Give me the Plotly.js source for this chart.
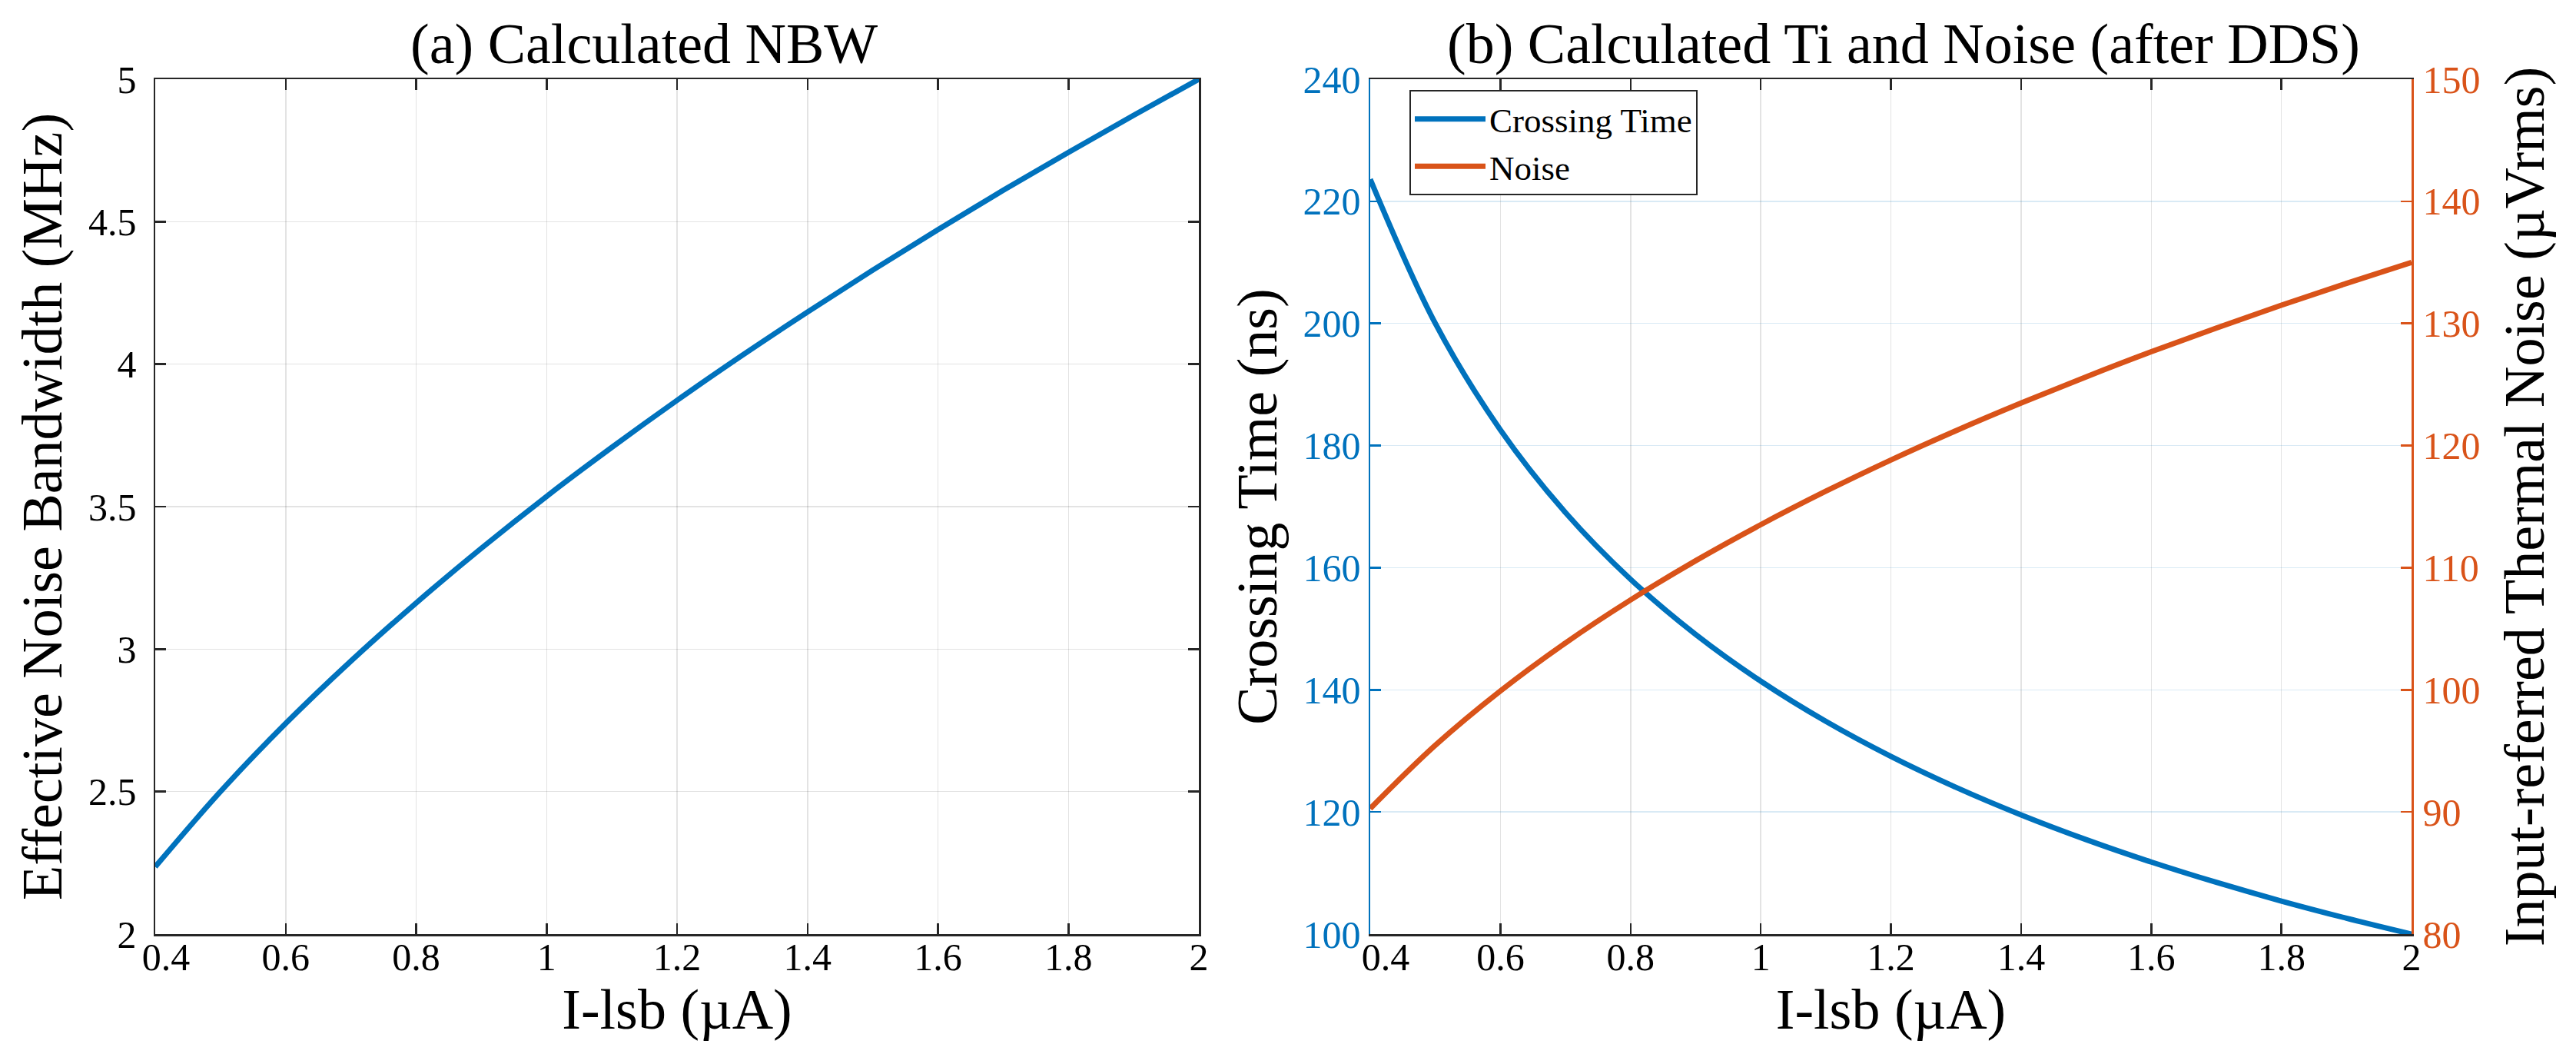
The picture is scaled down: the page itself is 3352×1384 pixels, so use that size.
<!DOCTYPE html>
<html>
<head>
<meta charset="utf-8">
<script src="https://cdn.plot.ly/plotly-3.0.1.min.js"></script>
<style>
  html, body { margin: 0; padding: 0; background: #ffffff; }
  #chart { width: 3352px; height: 1384px; }
</style>
</head>
<body>
<div id="chart"></div>
<script>
// ---- Data ----
const iLsbUA = [0.4, 0.5, 0.6, 0.7, 0.8, 0.9, 1.0, 1.1, 1.2, 1.3, 1.4, 1.5, 1.6, 1.7, 1.8, 1.9, 2.0];
const nbwMHz = [2.236, 2.500, 2.739, 2.958, 3.162, 3.354, 3.536, 3.708, 3.873, 4.031, 4.183, 4.330, 4.472, 4.610, 4.743, 4.873, 5.000];
const crossingTimeNs = [223.61, 200.00, 182.57, 169.03, 158.11, 149.07, 141.42, 134.84, 129.10, 124.03, 119.52, 115.47, 111.80, 108.47, 105.41, 102.60, 100.00];
const noiseUVrms = [90.28, 95.46, 99.91, 103.84, 107.36, 110.57, 113.52, 116.26, 118.82, 121.22, 123.48, 125.63, 127.68, 129.62, 131.49, 133.28, 135.00];

const xTickVals = [0.4, 0.6, 0.8, 1.0, 1.2, 1.4, 1.6, 1.8, 2.0];
// the "0.4" label is drawn by a companion axis, nudged right as in the reference
const xTickText = ["", "0.6", "0.8", "1", "1.2", "1.4", "1.6", "1.8", "2"];
const xFirstTickVals = [0.4];
const xFirstTickText = ["0.4"];
const nbwTickVals = [2, 2.5, 3, 3.5, 4, 4.5, 5];
const nbwTickText = ["2", "2.5", "3", "3.5", "4", "4.5", "5"];
const timeTickVals = [100, 120, 140, 160, 180, 200, 220, 240];
const noiseTickVals = [80, 90, 100, 110, 120, 130, 140, 150];

const seriesNames = ["Crossing Time", "Noise"];
const panelTitles = ["(a) Calculated NBW", "(b) Calculated Ti and Noise (after DDS)"];
const xTitle = "I-lsb (\u00B5A)";
const yTitles = ["Effective Noise Bandwidth (MHz)", "Crossing Time (ns)", "Input-referred Thermal Noise (\u00B5Vrms)"];

// ---- Styling ----
const W = 3352, H = 1384;
const BLUE = "#0072BD", ORANGE = "#D95319", AXC = "#262626";
const FONT = "Liberation Serif, Times New Roman, serif";
const TICKF = 50, TITLEF = 74;
const XLAB_STANDOFF = -16;
const GRID = "rgba(38,38,38,0.13)";
const GRIDB = "rgba(0,114,189,0.15)";
const CLEAR = "rgba(0,0,0,0)";

const px = v => v / W;
const py = v => 1 - v / H;

const traces = [
  { x: iLsbUA, y: nbwMHz, type: "scatter", mode: "lines", xaxis: "x", yaxis: "y",
    line: { color: BLUE, width: 7, shape: "spline", smoothing: 1 }, showlegend: false, name: "NBW" },
  { x: iLsbUA, y: crossingTimeNs, type: "scatter", mode: "lines", xaxis: "x2", yaxis: "y2",
    line: { color: BLUE, width: 7, shape: "spline", smoothing: 1 }, name: seriesNames[0] },
  { x: iLsbUA, y: noiseUVrms, type: "scatter", mode: "lines", xaxis: "x2", yaxis: "y3",
    line: { color: ORANGE, width: 7, shape: "spline", smoothing: 1 }, name: seriesNames[1] },
  // empty traces that only anchor the companion label axes
  { x: [], y: [], type: "scatter", mode: "lines", xaxis: "x3", yaxis: "y", showlegend: false, hoverinfo: "skip" },
  { x: [], y: [], type: "scatter", mode: "lines", xaxis: "x4", yaxis: "y2", showlegend: false, hoverinfo: "skip" }
];

const xCommon = {
  range: [0.4, 2], tickmode: "array", tickvals: xTickVals, ticktext: xTickText,
  ticks: "inside", ticklen: 14, tickwidth: 2.5, tickcolor: AXC,
  showline: true, linecolor: AXC, linewidth: 2.5, mirror: "ticks",
  showgrid: true, gridcolor: GRID, gridwidth: 1.5, zeroline: false,
  tickfont: { family: FONT, size: TICKF, color: "#000" },
  ticklabelstandoff: XLAB_STANDOFF,
  automargin: false,
  title: { text: xTitle, font: { family: FONT, size: TITLEF, color: "#000" }, standoff: 0 }
};

const xFirstLabel = {
  range: [0.4, 2], tickmode: "array", tickvals: xFirstTickVals, ticktext: xFirstTickText,
  side: "bottom", ticks: "inside", ticklen: 14, tickwidth: 2.5, tickcolor: CLEAR,
  showline: true, linecolor: CLEAR, linewidth: 2.5, showgrid: false, zeroline: false,
  tickfont: { family: FONT, size: TICKF, color: "#000" },
  ticklabelstandoff: XLAB_STANDOFF,
  automargin: false
};

const layout = {
  width: W, height: H,
  paper_bgcolor: "#ffffff", plot_bgcolor: "#ffffff",
  margin: { l: 0, r: 0, t: 0, b: 0 },
  font: { family: FONT, color: "#000" },
  xaxis: Object.assign({}, xCommon, { domain: [px(202), px(1560)], anchor: "y" }),
  xaxis3: Object.assign({}, xFirstLabel, { overlaying: "x", anchor: "y", ticklabelshift: 14 }),
  yaxis: {
    domain: [py(1215), py(103)], anchor: "x",
    range: [2, 5], tickmode: "array", tickvals: nbwTickVals, ticktext: nbwTickText,
    ticks: "inside", ticklen: 14, tickwidth: 2.5, tickcolor: AXC,
    showline: true, linecolor: AXC, linewidth: 2.5, mirror: "ticks",
    showgrid: true, gridcolor: GRID, gridwidth: 1.5, zeroline: false,
    tickfont: { family: FONT, size: TICKF, color: "#000" },
    ticklabelstandoff: 12,
    automargin: false,
    title: { text: yTitles[0], font: { family: FONT, size: TITLEF, color: "#000" }, standoff: 10 }
  },
  xaxis2: Object.assign({}, xCommon, { domain: [px(1783), px(3138)], anchor: "y2" }),
  xaxis4: Object.assign({}, xFirstLabel, { overlaying: "x2", anchor: "y2", ticklabelshift: 20 }),
  yaxis2: {
    domain: [py(1215), py(103)], anchor: "x2",
    range: [100, 240], tickmode: "array", tickvals: timeTickVals,
    ticks: "inside", ticklen: 14, tickwidth: 2.5, tickcolor: BLUE,
    showline: true, linecolor: BLUE, linewidth: 2.5,
    showgrid: true, gridcolor: GRIDB, gridwidth: 1.5, zeroline: false,
    tickfont: { family: FONT, size: TICKF, color: BLUE },
    automargin: false,
    title: { text: yTitles[1], font: { family: FONT, size: TITLEF, color: "#000" }, standoff: 10 }
  },
  yaxis3: {
    overlaying: "y2", side: "right", anchor: "x2",
    range: [80, 150], tickmode: "array", tickvals: noiseTickVals,
    ticks: "inside", ticklen: 14, tickwidth: 2.5, tickcolor: ORANGE,
    showline: true, linecolor: ORANGE, linewidth: 2.5,
    showgrid: false, zeroline: false,
    tickfont: { family: FONT, size: TICKF, color: ORANGE },
    ticklabelstandoff: 2,
    automargin: false,
    title: { text: yTitles[2], font: { family: FONT, size: TITLEF, color: "#000" }, standoff: 32 }
  },
  showlegend: true,
  legend: {
    x: px(1834), y: py(117), xanchor: "left", yanchor: "top",
    bgcolor: "#ffffff", bordercolor: AXC, borderwidth: 2,
    font: { family: FONT, size: 45, color: "#000" },
    itemwidth: 92, tracegroupgap: 0
  },
  annotations: [
    { text: panelTitles[0], xref: "paper", yref: "paper", x: px(838), y: py(100),
      xanchor: "center", yanchor: "bottom", showarrow: false,
      font: { family: FONT, size: TITLEF, color: "#000" } },
    { text: panelTitles[1], xref: "paper", yref: "paper", x: px(2477), y: py(100),
      xanchor: "center", yanchor: "bottom", showarrow: false,
      font: { family: FONT, size: TITLEF, color: "#000" } }
  ]
};

Plotly.newPlot("chart", traces, layout, { staticPlot: true, displayModeBar: false });
</script>
</body>
</html>
